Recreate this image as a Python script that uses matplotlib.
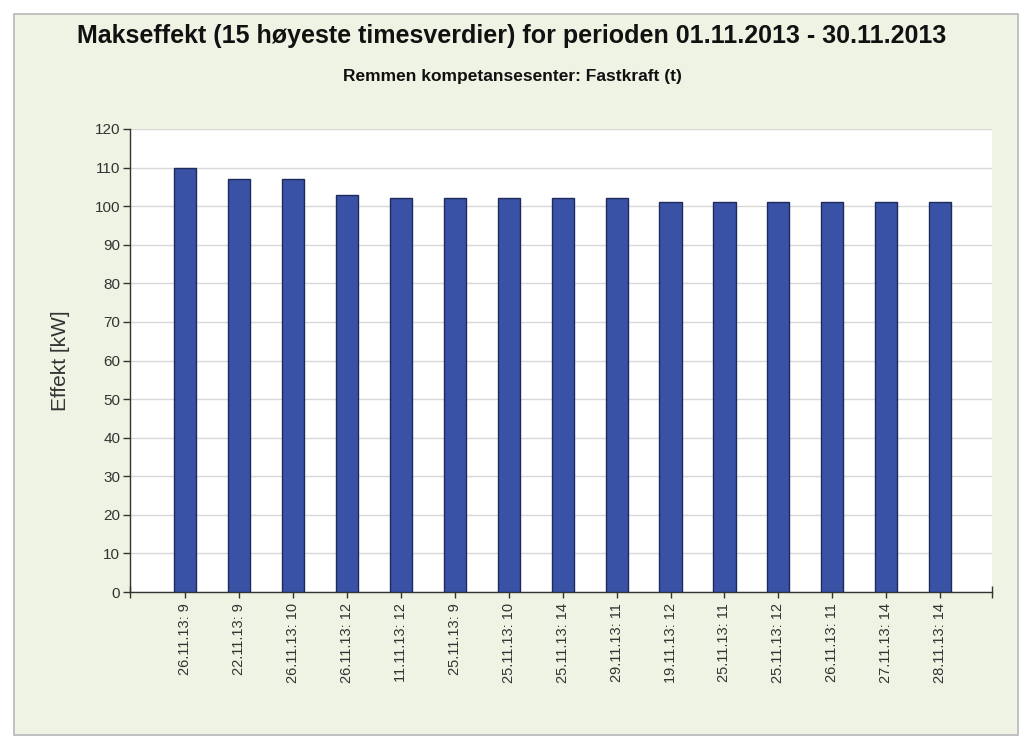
import matplotlib
matplotlib.use("Agg")
import matplotlib.pyplot as plt
from matplotlib.patches import Rectangle

categories = ["26.11.13: 9", "22.11.13: 9", "26.11.13: 10", "26.11.13: 12", "11.11.13: 12",
              "25.11.13: 9", "25.11.13: 10", "25.11.13: 14", "29.11.13: 11", "19.11.13: 12",
              "25.11.13: 11", "25.11.13: 12", "26.11.13: 11", "27.11.13: 14", "28.11.13: 14"]
values = [110, 107, 107, 103, 102, 102, 102, 102, 102, 101, 101, 101, 101, 101, 101]
yticks = list(range(0, 121, 10))

fig = plt.figure(figsize=(10.24, 7.49), dpi=100)
fig.patch.set_facecolor("white")
panel = Rectangle((14/1024, 1-735/749), 1004/1024, 721/749, transform=fig.transFigure,
                  facecolor="#EEF3E3", edgecolor="#B8B8B8", linewidth=1.2, zorder=-10)
fig.patches.append(panel)

ax = fig.add_axes([130/1024, 1-592/749, 862/1024, 463/749])
ax.set_facecolor("white")
x = list(range(len(categories)))
ax.bar(x, values, width=0.41, color="#3A52A6", edgecolor="#1E2A5A", linewidth=1.0, zorder=3)
ax.set_xlim(-1.02, 14.96)
ax.set_ylim(0, 120)
ax.set_yticks(yticks)
ax.set_yticklabels([str(v) for v in yticks], fontsize=11, color="#333333", family="Liberation Sans")
ax.yaxis.grid(True, color="#D8D8D8", linewidth=1.0, zorder=0)
ax.set_xticks(x)
ax.set_xticklabels(categories, rotation=90, fontsize=10.5, color="#333333", family="Liberation Sans")
ax.set_xticks([-1.02, 14.96], minor=True)
ax.tick_params(axis="x", which="both", direction="inout", length=8, width=1, color="#333333", pad=4)
ax.tick_params(axis="y", direction="out", length=5, width=1, color="#333333", pad=2)
for s in ["top", "right"]:
    ax.spines[s].set_visible(False)
for s in ["left", "bottom"]:
    ax.spines[s].set_color("#333333")
    ax.spines[s].set_linewidth(1.0)
ax.set_ylabel("Effekt [kW]", fontsize=15, color="#333333", family="Liberation Sans", labelpad=18)

fig.text(0.5, 1-36/749, "Makseffekt (15 høyeste timesverdier) for perioden 01.11.2013 - 30.11.2013",
         ha="center", va="center", fontsize=18, fontweight="bold", family="Liberation Sans", color="#111111")
fig.text(0.5, 1-77/749, "Remmen kompetansesenter: Fastkraft (t)",
         ha="center", va="center", fontsize=12.5, fontweight="bold", family="Liberation Sans", color="#111111")

fig.savefig("out.png", dpi=100, facecolor=fig.get_facecolor())
